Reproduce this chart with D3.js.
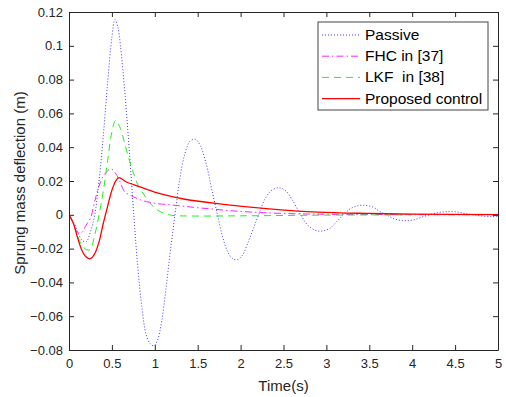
<!DOCTYPE html>
<html>
<head>
<meta charset="utf-8">
<script src="https://cdn.jsdelivr.net/npm/d3@7"></script>
<style>
  body { margin: 0; background: #fff; }
  svg { font-family: "Liberation Sans", Arial, sans-serif; }
</style>
</head>
<body>
<div id="chart"></div>
<script>
// values
const passiveT = [0, 0.05, 0.1, 0.15, 0.2, 0.25, 0.3, 0.35, 0.4, 0.45, 0.5, 0.535, 0.57, 0.6, 0.65, 0.7, 0.755, 0.8, 0.85, 0.9, 0.95, 0.99, 1.03, 1.08, 1.13, 1.18, 1.235, 1.29, 1.35, 1.41, 1.47, 1.53, 1.6, 1.66, 1.73, 1.79, 1.85, 1.91, 1.965, 2.02, 2.09, 2.15, 2.21, 2.28, 2.35, 2.41, 2.46, 2.53, 2.6, 2.7, 2.78, 2.87, 2.955, 3.04, 3.12, 3.2, 3.28, 3.37, 3.45, 3.54, 3.62, 3.7, 3.78, 3.86, 3.94, 4.02, 4.1, 4.2, 4.3, 4.38, 4.46, 4.55, 4.63, 4.72, 4.8, 4.93, 5];
const passiveY = [0, -0.004, -0.010, -0.015, -0.016, -0.010, 0.000, 0.020, 0.047, 0.078, 0.105, 0.1155, 0.111, 0.100, 0.073, 0.040, 0.000, -0.030, -0.055, -0.071, -0.0765, -0.0775, -0.0745, -0.063, -0.044, -0.022, 0.000, 0.021, 0.036, 0.0435, 0.0447, 0.041, 0.030, 0.016, 0.000, -0.013, -0.022, -0.026, -0.0265, -0.024, -0.016, -0.008, 0.000, 0.009, 0.014, 0.0157, 0.0159, 0.014, 0.009, 0.000, -0.006, -0.0092, -0.0096, -0.008, -0.004, 0.000, 0.0036, 0.0054, 0.0056, 0.0046, 0.002, 0.000, -0.0022, -0.0033, -0.0035, -0.003, -0.0016, 0.000, 0.0013, 0.0018, 0.0019, 0.0015, 0.0006, 0.000, -0.0007, -0.001, -0.0009];

const fhcT = [0, 0.05, 0.1, 0.15, 0.2, 0.25, 0.3, 0.35, 0.4, 0.45, 0.49, 0.55, 0.59, 0.65, 0.7, 0.8, 0.9, 1.0, 1.2, 1.5, 2.0, 2.5, 3.0, 4.0, 5.0];
const fhcY = [0, -0.005, -0.0105, -0.0105, -0.006, -0.002, 0.008, 0.017, 0.023, 0.026, 0.0273, 0.024, 0.020, 0.0135, 0.012, 0.0095, 0.0078, 0.0068, 0.0058, 0.0042, 0.002, 0.0008, 0.0003, 0.0001, 0];

const lkfT = [0, 0.05, 0.1, 0.15, 0.2, 0.245, 0.3, 0.35, 0.4, 0.45, 0.5, 0.544, 0.6, 0.65, 0.7, 0.75, 0.8, 0.9, 1.0, 1.1, 1.2, 1.4, 2.0, 3.0, 4.0, 5.0];
const lkfY = [0, -0.005, -0.0125, -0.018, -0.0205, -0.0206, -0.012, 0.000, 0.014, 0.032, 0.049, 0.0559, 0.051, 0.042, 0.033, 0.025, 0.018, 0.010, 0.004, 0.001, -0.0003, -0.0007, -0.0006, -0.0002, 0];

const propT = [0, 0.05, 0.1, 0.15, 0.2, 0.25, 0.3, 0.35, 0.4, 0.45, 0.5, 0.55, 0.583, 0.67, 0.83, 1.06, 1.35, 1.8, 2.3, 2.9, 3.5, 4.0, 5.0];
const propY = [0, -0.005, -0.0135, -0.021, -0.025, -0.026, -0.023, -0.016, -0.005, 0.005, 0.0145, 0.0205, 0.022, 0.0194, 0.0165, 0.0125, 0.0092, 0.0062, 0.0037, 0.0016, 0.0008, 0.0004, 0.0001];

const seriesNames = ["Passive", "FHC in [37]", "LKF  in [38]", "Proposed control"];
const xTicks = [0, 0.5, 1, 1.5, 2, 2.5, 3, 3.5, 4, 4.5, 5];
const yTicks = [-0.08, -0.06, -0.04, -0.02, 0, 0.02, 0.04, 0.06, 0.08, 0.1, 0.12];

const width = 506, height = 397;
const margin = { left: 69, right: 8, top: 12, bottom: 47 };

const svg = d3.select("#chart").append("svg")
  .attr("width", width)
  .attr("height", height);

const x = d3.scaleLinear().domain([0, 5]).range([margin.left, width - margin.right]);
const y = d3.scaleLinear().domain([-0.08, 0.12]).range([height - margin.bottom, margin.top]);

svg.append("defs").append("clipPath").attr("id", "plot-clip")
  .append("rect")
  .attr("x", x(0)).attr("y", y(0.12))
  .attr("width", x(5) - x(0)).attr("height", y(-0.08) - y(0.12));

const series = [
  { name: seriesNames[0], t: passiveT, v: passiveY, color: "#3a3aff", dash: "1,2", w: 1 },
  { name: seriesNames[1], t: fhcT, v: fhcY, color: "#ff22ff", dash: "7,3,1.5,3", w: 1 },
  { name: seriesNames[2], t: lkfT, v: lkfY, color: "#22ee22", dash: "7,5", w: 1 },
  { name: seriesNames[3], t: propT, v: propY, color: "#ff0000", dash: null, w: 1.3 }
];

const line = d3.line()
  .x(d => x(d[0]))
  .y(d => y(d[1]))
  .curve(d3.curveCatmullRom.alpha(0.5));

const plot = svg.append("g").attr("clip-path", "url(#plot-clip)");
series.forEach(s => {
  plot.append("path")
    .datum(s.t.map((t, i) => [t, s.v[i]]))
    .attr("d", line)
    .attr("fill", "none")
    .attr("stroke", s.color)
    .attr("stroke-width", s.w)
    .attr("stroke-dasharray", s.dash);
});

// axes with inward ticks, box on
const axisColor = "#262626";
const tickLen = 5;

const gx = svg.append("g")
  .attr("transform", `translate(0,${y(-0.08)})`)
  .call(d3.axisBottom(x).tickValues(xTicks).tickSizeInner(-tickLen).tickSizeOuter(0).tickPadding(9)
    .tickFormat(d3.format("")));
const gxTop = svg.append("g")
  .attr("transform", `translate(0,${y(0.12)})`)
  .call(d3.axisTop(x).tickValues(xTicks).tickSizeInner(-tickLen).tickSizeOuter(0).tickFormat(""));
const gy = svg.append("g")
  .attr("transform", `translate(${x(0)},0)`)
  .call(d3.axisLeft(y).tickValues(yTicks).tickSizeInner(-tickLen).tickSizeOuter(0).tickPadding(6)
    .tickFormat(d => d3.format("")(+d.toFixed(2))));
const gyRight = svg.append("g")
  .attr("transform", `translate(${x(5)},0)`)
  .call(d3.axisRight(y).tickValues(yTicks).tickSizeInner(-tickLen).tickSizeOuter(0).tickFormat(""));

[gx, gxTop, gy, gyRight].forEach(g => {
  g.selectAll(".domain").attr("stroke", axisColor);
  g.selectAll(".tick line").attr("stroke", axisColor);
  g.selectAll(".tick text").attr("fill", axisColor).attr("font-size", "13px")
    .attr("font-family", "Liberation Sans, Arial, sans-serif");
});

svg.append("text")
  .attr("x", (x(0) + x(5)) / 2)
  .attr("y", 391)
  .attr("text-anchor", "middle")
  .attr("font-size", "15px")
  .attr("fill", axisColor)
  .text("Time(s)");

svg.append("text")
  .attr("transform", `translate(25,${(y(-0.08) + y(0.12)) / 2 + 2}) rotate(-90)`)
  .attr("text-anchor", "middle")
  .attr("font-size", "15px")
  .attr("fill", axisColor)
  .text("Sprung mass deflection (m)");

// Legend
const legend = svg.append("g").attr("transform", "translate(318,22)");
legend.append("rect")
  .attr("width", 170)
  .attr("height", 88)
  .attr("fill", "#fff")
  .attr("stroke", "#444")
  .attr("stroke-width", 1);

series.forEach((s, i) => {
  const ly = 13 + i * 21.2;
  legend.append("line")
    .attr("x1", 4).attr("x2", 42)
    .attr("y1", ly).attr("y2", ly)
    .attr("stroke", s.color)
    .attr("stroke-width", s.w)
    .attr("stroke-dasharray", s.dash);
  legend.append("text")
    .attr("x", 47)
    .attr("y", ly + 5)
    .attr("font-size", "15.5px")
    .attr("fill", "#000")
    .style("white-space", "pre")
    .text(s.name);
});
</script>
</body>
</html>
